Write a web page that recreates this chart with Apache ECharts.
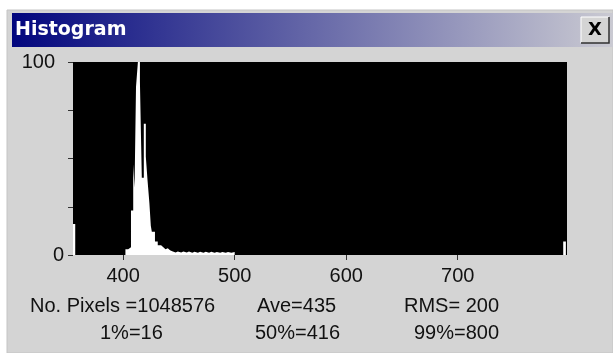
<!DOCTYPE html>
<html>
<head>
<meta charset="utf-8">
<script src="https://cdn.jsdelivr.net/npm/echarts@6/dist/echarts.min.js"></script>
<style>
html, body { margin: 0; padding: 0; background: #fff; }
#histo { width: 613px; height: 353px; }
</style>
</head>
<body>
<div id="histo"></div>
<script>
// left edge of each bin and its count (percent of peak)
var binEdges = [355, 357, 402, 404.5, 407, 409, 410.2, 411.5, 413.2, 415, 416.7, 418.5, 420.3, 421.8, 423.5, 424.8, 425.7,
	428.5, 431, 434, 436, 438, 440, 442, 444, 447, 449, 452, 454, 457, 459, 462, 464, 467, 469, 472, 474, 477, 479,
	482, 484, 487, 489, 492, 494, 497, 500, 794.6, 797];
var binCounts = [16, 0, 3, 4, 23, 47, 35, 87, 100, 90, 40, 68, 51, 39, 27, 15, 12,
	7, 5, 4, 3, 3.5, 2.5, 2, 1.3, 1.8, 1.3, 1.8, 1.3, 1.8, 1.2, 1.7, 1.2, 1.7, 1.2, 1.7, 1.2, 1.7, 1.2,
	1.6, 1.2, 1.6, 1.2, 1.6, 1.2, 1.6, 0, 7, 0];
var xTicks = [400, 500, 600, 700];
var yTicks = [0, 100];
var statsRow1 = ['No. Pixels =1048576', 'Ave=435', 'RMS= 200'];
var statsRow2 = ['1%=16', '50%=416', '99%=800'];

var histoData = [];
for (var i = 0; i < binEdges.length; i++) {
	histoData.push([binEdges[i], binCounts[i]]);
}

var myChart = echarts.init(document.getElementById('histo'), null, { renderer: 'canvas' });

var font = '"Liberation Sans", Arial, sans-serif';
var statsX1 = [30, 257, 404];
var statsX2 = [100, 255, 414];
var texts = [];
for (var k = 0; k < 3; k++) {
	texts.push({ type: 'text', x: statsX1[k], y: 306, style: { text: statsRow1[k], fill: '#111', font: '20px ' + font, textVerticalAlign: 'middle' } });
	texts.push({ type: 'text', x: statsX2[k], y: 333, style: { text: statsRow2[k], fill: '#111', font: '20px ' + font, textVerticalAlign: 'middle' } });
}

option = {
	animation: false,
	backgroundColor: '#fff',
	graphic: [
		// window frame and body
		{ type: 'rect', z: -100, shape: { x: 7, y: 10, width: 606, height: 343 }, style: { fill: '#d4d4d4', stroke: '#c4c4c4', lineWidth: 1 } },
		// title bar
		{ type: 'rect', z: -90, shape: { x: 12, y: 13, width: 601, height: 34 },
			style: { fill: new echarts.graphic.LinearGradient(0, 0, 1, 0, [
				{ offset: 0, color: '#02067e' },
				{ offset: 1, color: '#cacad2' }
			]) } },
		{ type: 'text', z: 10, x: 15, y: 30, style: { text: 'Histogram', fill: '#fff', font: 'bold 19px "DejaVu Sans", sans-serif', textVerticalAlign: 'middle' } },
		// close button
		{ type: 'rect', z: 10, shape: { x: 581, y: 17, width: 28, height: 26 }, style: { fill: '#d4d4d4' } },
		{ type: 'polyline', z: 11, shape: { points: [[581, 43], [581, 17], [609, 17]] }, style: { stroke: '#fff', lineWidth: 1, fill: null } },
		{ type: 'polyline', z: 11, shape: { points: [[581, 43], [609, 43], [609, 17]] }, style: { stroke: '#303030', lineWidth: 1.5, fill: null } },
		{ type: 'text', z: 12, x: 595, y: 30, style: { text: 'X', fill: '#000', font: 'bold 18px "DejaVu Sans", sans-serif', textAlign: 'center', textVerticalAlign: 'middle' } }
	].concat(texts),
	grid: {
		left: 73,
		right: 46,
		top: 62,
		bottom: 98,
		show: true,
		backgroundColor: '#000',
		borderWidth: 0
	},
	xAxis: {
		type: 'value',
		min: 355,
		max: 798,
		axisLine: { show: false },
		splitLine: { show: false },
		axisTick: { show: true, length: 5, lineStyle: { color: '#333' }, customValues: xTicks },
		axisLabel: { color: '#111', fontSize: 20, fontFamily: font, margin: 11, customValues: xTicks }
	},
	yAxis: {
		type: 'value',
		min: 0,
		max: 100,
		interval: 25,
		axisLine: { show: false },
		splitLine: { show: false },
		axisTick: { show: true, length: 5, lineStyle: { color: '#333' } },
		axisLabel: {
			color: '#111', fontSize: 20, fontFamily: font, margin: 9,
			customValues: yTicks,
			formatter: function(v) {
				return v == 100 ? '{p|100}' : String(v);
			},
			rich: { p: { fontSize: 20, fontFamily: font, color: '#111', padding: [0, 9, 0, 0] } }
		}
	},
	series: [{
		type: 'line',
		step: 'end',
		showSymbol: false,
		lineStyle: { width: 0 },
		areaStyle: { color: '#fff', opacity: 1 },
		data: histoData
	}]
};
myChart.setOption(option);
</script>
</body>
</html>
